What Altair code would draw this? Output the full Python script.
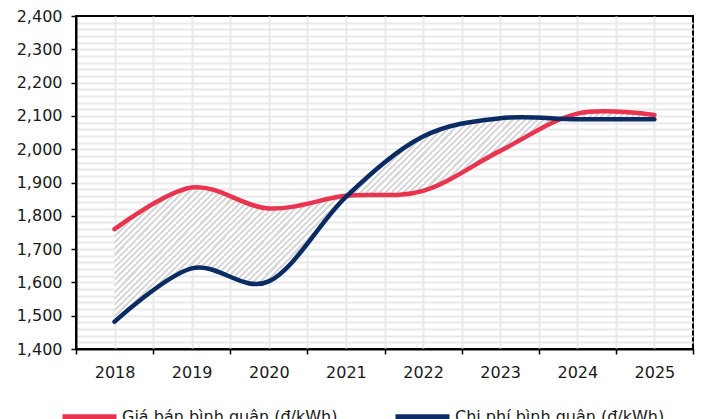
import altair as alt
import numpy as np
import pandas as pd

# ---------------- data ----------------
years = [2018, 2019, 2020, 2021, 2022, 2023, 2024, 2025]
gia_ban = [1760, 1885, 1822, 1860, 1875, 1995, 2107, 2103]   # Giá bán bình quân
chi_phi = [1482, 1642, 1603, 1857, 2038, 2093, 2090, 2090]   # Chi phí bình quân
series_names = ["Giá bán bình quân (đ/kWh)", "Chi phí bình quân (đ/kWh)"]
series_colors = ["#E8344F", "#0B2C63"]
y_label_ticks = list(range(1400, 2401, 100))

FONT = "DejaVu Sans"
LABEL_COLOR = "#1a1a1a"
GRID_COLOR = "#e9e9e9"

wide = pd.DataFrame({"year": years, "ban": gia_ban, "chi": chi_phi})
long = pd.DataFrame({
    "year": years + years,
    "value": gia_ban + chi_phi,
    "series": [series_names[0]] * len(years) + [series_names[1]] * len(years),
})

half_years = [y - 0.5 for y in years] + [years[-1] + 0.5]
minor_y = list(range(1420, 2400, 20))

xscale = alt.Scale(domain=[years[0] - 0.5, years[-1] + 0.5], nice=False, zero=False)
yscale = alt.Scale(domain=[y_label_ticks[0], y_label_ticks[-1]], nice=False, zero=False)
cscale = alt.Scale(domain=series_names, range=series_colors)

# ---------- hatch fill (diagonal stripes through a linear gradient) ----------
W, H = 540.0, 209.0
r = H / W
k = (1 + r) / (1 + r * r)
n_stripes = 122
stops = []
for i in range(n_stripes):
    a = i / n_stripes
    m = (i + 0.5) / n_stripes
    b = (i + 1) / n_stripes
    stops += [
        alt.GradientStop(offset=a, color="#d9d9d9"),
        alt.GradientStop(offset=m, color="#d9d9d9"),
        alt.GradientStop(offset=m, color="#ffffff"),
        alt.GradientStop(offset=b, color="#ffffff"),
    ]
hatch = alt.Gradient(gradient="linear", stops=stops, x1=0, y1=0, x2=k, y2=k * r)

# ---------------- layers ----------------
area = alt.Chart(wide).mark_area(interpolate="cardinal", color=hatch).encode(
    x=alt.X("year:Q", scale=xscale, title=None,
            axis=alt.Axis(values=years, format="d", ticks=False, tickSize=0,
                          labelPadding=15, grid=True, gridColor=GRID_COLOR,
                          gridWidth=2, domain=True, domainColor="black",
                          domainWidth=2, orient="bottom")),
    y=alt.Y("ban:Q", scale=yscale, title=None,
            axis=alt.Axis(values=y_label_ticks, format=",d", ticks=True,
                          tickSize=5, tickColor="black", tickWidth=1.5,
                          labelPadding=9, grid=False, domain=True,
                          domainColor="black", domainWidth=2, orient="left")),
    y2="chi:Q",
)

red = alt.Chart(long).transform_filter(
    alt.datum.series == series_names[0]
).mark_line(interpolate="cardinal", strokeWidth=4.5, strokeCap="round").encode(
    x=alt.X("year:Q", scale=xscale, title=None,
            axis=alt.Axis(values=half_years, labels=False, ticks=True,
                          tickSize=5, tickColor="black", tickWidth=1.5,
                          grid=True, gridColor=GRID_COLOR, gridWidth=2,
                          gridOpacity={"condition": {"test": f"datum.value < {years[0]} || datum.value > {years[-1]}", "value": 0}, "value": 1},
                          domain=False, orient="bottom")),
    y=alt.Y("value:Q", scale=yscale, title=None,
            axis=alt.Axis(values=minor_y, labels=False, ticks=False, grid=True,
                          gridColor=GRID_COLOR, gridWidth=2, domain=False,
                          orient="left")),
    color=alt.Color("series:N", scale=cscale, title=None,
                    legend=alt.Legend(orient="none", legendX=-16, legendY=371,
                                      direction="horizontal", columns=2,
                                      symbolType="stroke", symbolSize=2916,
                                      symbolStrokeWidth=5, labelFontSize=16,
                                      labelFont=FONT, labelColor=LABEL_COLOR,
                                      labelLimit=400, labelOffset=3,
                                      columnPadding=47, padding=0)),
)

blue = alt.Chart(long).transform_filter(
    alt.datum.series == series_names[1]
).mark_line(interpolate="cardinal", strokeWidth=4.5, strokeCap="round").encode(
    x=alt.X("year:Q", scale=xscale, axis=None),
    y=alt.Y("value:Q", scale=yscale, axis=None),
    color=alt.Color("series:N", scale=cscale),
)

chart = alt.layer(area, red, blue).resolve_axis(
    x="independent", y="independent"
).properties(
    width=617, height=333,
    autosize=alt.AutoSizeParams(type="none"),
    padding={"left": 76, "top": 16, "right": 9, "bottom": 70},
    background="white",
).configure_view(
    stroke="black", strokeWidth=2
).configure_axis(
    labelFont=FONT, labelFontSize=16, labelColor=LABEL_COLOR,
)

chart.save("out.html", embed_options={"renderer": "svg", "actions": False})
